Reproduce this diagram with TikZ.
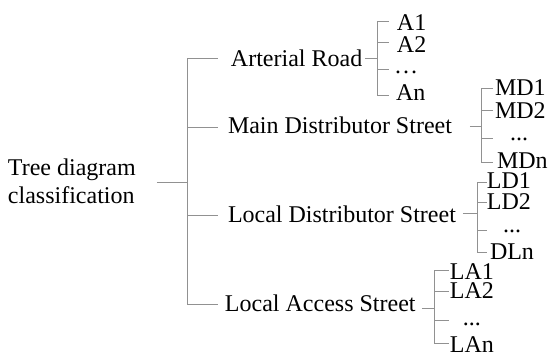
\documentclass[tikz,border=0pt]{standalone}
\usepackage{fontspec}
\setmainfont{Liberation Serif}
\definecolor{treeline}{RGB}{145,145,145}
\begin{document}
\begin{tikzpicture}[x=0.5pt,y=-0.5pt,
  lbl/.style={anchor=base west, inner sep=0pt, outer sep=0pt,
              text height=8pt, text depth=0pt,
              font=\fontsize{12}{14}\selectfont},
  link/.style={draw=treeline, line width=0.5pt}]
\useasboundingbox (0,0) rectangle (548,354);

% ---- root ----
\node[lbl] (root1) at (8,175) {Tree diagram};
\node[lbl] (root2) at (8,203) {classification};
\coordinate (rootout) at (157,182);
\coordinate (hub) at (188,182);
\draw[link] (rootout) -- (hub);

% ---- main spine ----
\coordinate (h1) at (188,58);  \coordinate (e1) at (218,58);
\coordinate (h2) at (188,127); \coordinate (e2) at (218,127);
\coordinate (h3) at (188,215); \coordinate (e3) at (218,215);
\coordinate (h4) at (188,304); \coordinate (e4) at (218,304);
\draw[link] (e1) -- (h1) -- (h4) -- (e4);
\draw[link] (h2) -- (e2);
\draw[link] (h3) -- (e3);

% ---- Arterial Road ----
\node[lbl] (art) at (231,66) {Arterial Road};
\coordinate (artout) at (365,58); \coordinate (arthub) at (378,58);
\draw[link] (artout) -- (arthub);
\coordinate (a1) at (378,21); \coordinate (a1e) at (389,21);
\coordinate (a2) at (378,42); \coordinate (a2e) at (389,42);
\coordinate (a3) at (378,69); \coordinate (a3e) at (389,69);
\coordinate (a4) at (378,95); \coordinate (a4e) at (389,95);
\draw[link] (a1e) -- (a1) -- (a4) -- (a4e);
\draw[link] (a2) -- (a2e);
\draw[link] (a3) -- (a3e);
\node[lbl] (A1) at (397,30) {A1};
\node[lbl] (A2) at (397,52) {A2};
\node[lbl] (Adots) at (394,73) {…};
\node[lbl] (An) at (396,100) {An};

% ---- Main Distributor Street ----
\node[lbl] (main) at (228,133) {Main Distributor Street};
\coordinate (mainout) at (470,126); \coordinate (mainhub) at (482,126);
\draw[link] (mainout) -- (mainhub);
\coordinate (m1) at (482,88);  \coordinate (m1e) at (493,88);
\coordinate (m2) at (482,110); \coordinate (m2e) at (493,110);
\coordinate (m3) at (482,138); \coordinate (m3e) at (493,138);
\coordinate (m4) at (482,162); \coordinate (m4e) at (493,162);
\draw[link] (m1e) -- (m1) -- (m4) -- (m4e);
\draw[link] (m2) -- (m2e);
\draw[link] (m3) -- (m3e);
\node[lbl] (MD1) at (495,95) {MD1};
\node[lbl] (MD2) at (495,118) {MD2};
\node[lbl] (MDdots) at (510,140) {...};
\node[lbl] (MDn) at (497,168) {MDn};

% ---- Local Distributor Street ----
\node[lbl] (locd) at (228,222) {Local Distributor Street};
\coordinate (locdout) at (463,213); \coordinate (locdhub) at (478,213);
\draw[link] (locdout) -- (locdhub);
\coordinate (d1) at (478,182); \coordinate (d1e) at (487,182);
\coordinate (d2) at (478,202); \coordinate (d2e) at (487,202);
\coordinate (d3) at (478,230); \coordinate (d3e) at (487,230);
\coordinate (d4) at (478,252); \coordinate (d4e) at (487,252);
\draw[link] (d1e) -- (d1) -- (d4) -- (d4e);
\draw[link] (d2) -- (d2e);
\draw[link] (d3) -- (d3e);
\node[lbl] (LD1) at (487,188) {LD1};
\node[lbl] (LD2) at (487,209) {LD2};
\node[lbl] (LDdots) at (503,232) {...};
\node[lbl] (DLn) at (490,259) {DLn};

% ---- Local Access Street ----
\node[lbl] (loca) at (225,311) {Local Access Street};
\coordinate (locaout) at (422,308); \coordinate (locahub) at (435,308);
\draw[link] (locaout) -- (locahub);
\coordinate (l1) at (435,270); \coordinate (l1e) at (449,270);
\coordinate (l2) at (435,291); \coordinate (l2e) at (449,291);
\coordinate (l3) at (435,320); \coordinate (l3e) at (449,320);
\coordinate (l4) at (435,343); \coordinate (l4e) at (449,343);
\draw[link] (l1e) -- (l1) -- (l4) -- (l4e);
\draw[link] (l2) -- (l2e);
\draw[link] (l3) -- (l3e);
\node[lbl] (LA1) at (450,279) {LA1};
\node[lbl] (LA2) at (450,298) {LA2};
\node[lbl] (LAdots) at (463,325) {...};
\node[lbl] (LAn) at (450,352) {LAn};
\end{tikzpicture}
\end{document}
